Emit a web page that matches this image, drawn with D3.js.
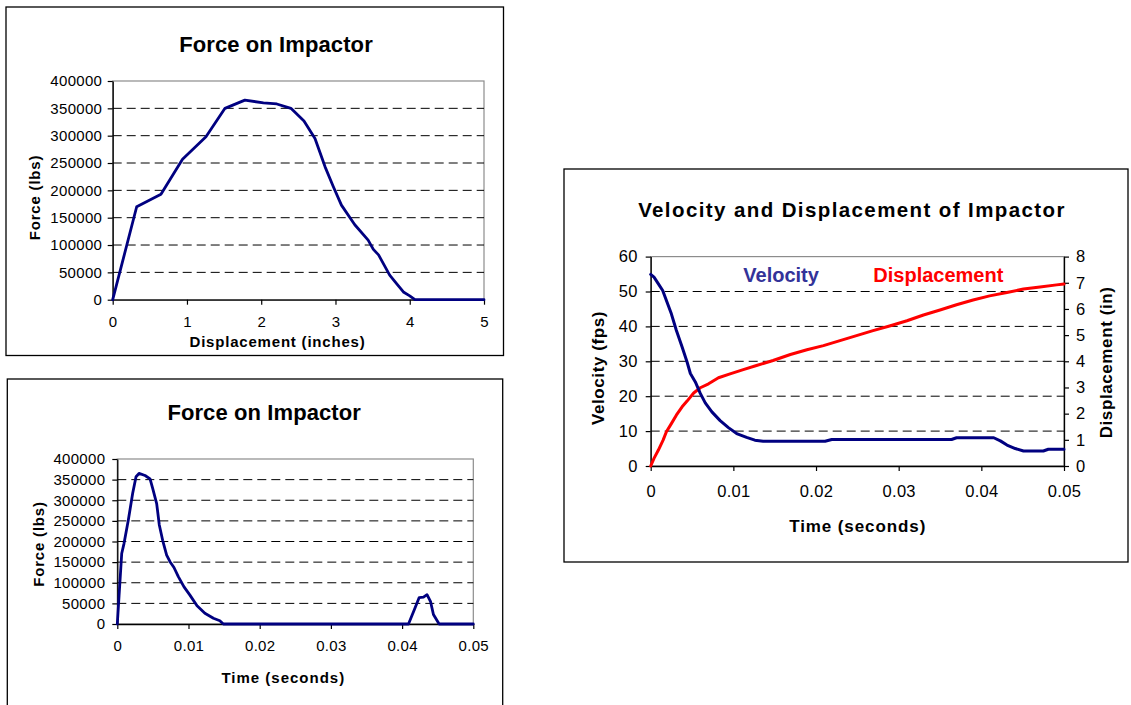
<!DOCTYPE html>
<html>
<head>
<meta charset="utf-8">
<script src="https://cdn.jsdelivr.net/npm/d3@7"></script>
<style>
body { margin: 0; background: #fff; }
svg text { font-family: "Liberation Sans", Arial, sans-serif; }
</style>
</head>
<body>
<svg width="1131" height="705"></svg>
<script>
// force vs displacement (top left chart)
var dispInches = [0, 0.323, 0.65, 0.94, 1.256, 1.512, 1.78, 2.03, 2.21, 2.40, 2.576, 2.724, 2.86, 2.97, 3.08, 3.26, 3.44, 3.51, 3.58, 3.73, 3.82, 3.92, 4.0, 4.07, 5.0];
var dispForce  = [0, 170000, 193000, 257000, 298000, 350000, 365000, 360000, 358000, 350000, 327000, 295000, 243000, 207000, 173000, 137000, 109000, 92000, 82000, 45000, 30000, 13500, 7000, 0, 0];

// force vs time (bottom left chart)
var forceTime = [0, 0.00062, 0.00094, 0.00155, 0.00216, 0.00263, 0.00305, 0.0039, 0.0046, 0.00497, 0.00553, 0.0059, 0.00637, 0.00693, 0.0074, 0.00796, 0.00857, 0.00937, 0.0102, 0.0112, 0.0123, 0.0135, 0.0144, 0.0149, 0.0409, 0.0417, 0.0424, 0.043, 0.0435, 0.044, 0.0444, 0.0452, 0.05];
var forceLbs  = [0, 171000, 195000, 252000, 317000, 357000, 365000, 360000, 352000, 329000, 292000, 240000, 203000, 167000, 151000, 137000, 115000, 90000, 70000, 44000, 26000, 14000, 8000, 0, 0, 34000, 64000, 65000, 71000, 54000, 23000, 0, 0];

// velocity and displacement vs time (right chart)
var velTime = [0, 0.0004, 0.00093, 0.00145, 0.0019, 0.0025, 0.0031, 0.0038, 0.0044, 0.0048, 0.0054, 0.006, 0.0066, 0.0074, 0.0084, 0.0094, 0.0104, 0.0116, 0.0126, 0.0136, 0.0211, 0.0219, 0.0364, 0.037, 0.0415, 0.0423, 0.0431, 0.0441, 0.0451, 0.0475, 0.0481, 0.05];
var velFps  = [54.9, 54.1, 52.2, 50.3, 47.4, 43.6, 38.9, 34.1, 29.8, 26.5, 24.1, 20.8, 18.1, 15.5, 13.0, 11.0, 9.3, 8.2, 7.4, 7.1, 7.1, 7.6, 7.6, 8.1, 8.1, 7.2, 6.0, 5.0, 4.3, 4.3, 4.8, 4.8];
var dspTime = [0, 0.0004, 0.00093, 0.0015, 0.0019, 0.0025, 0.0031, 0.0038, 0.0044, 0.0052, 0.006, 0.007, 0.0082, 0.0096, 0.0112, 0.0128, 0.0148, 0.0169, 0.0189, 0.0209, 0.0229, 0.0249, 0.0269, 0.029, 0.031, 0.033, 0.035, 0.037, 0.039, 0.041, 0.0431, 0.0451, 0.0471, 0.0491, 0.05];
var dspIn   = [0, 0.29, 0.61, 0.99, 1.31, 1.62, 1.94, 2.26, 2.48, 2.79, 2.99, 3.14, 3.37, 3.52, 3.68, 3.84, 4.03, 4.26, 4.44, 4.6, 4.79, 4.98, 5.17, 5.36, 5.55, 5.77, 5.96, 6.16, 6.34, 6.5, 6.63, 6.76, 6.84, 6.92, 6.95];

// tick values
var forceTicks = [0, 50000, 100000, 150000, 200000, 250000, 300000, 350000, 400000];
var inchTicks = [0, 1, 2, 3, 4, 5];
var timeTicks = [0, 0.01, 0.02, 0.03, 0.04, 0.05];
var velTicks = [0, 10, 20, 30, 40, 50, 60];
var dspTicks = [0, 1, 2, 3, 4, 5, 6, 7, 8];

var svg = d3.select("svg");
var NAVY = "#000080";

//draws the outer box, plot area, gridlines and title
function frame(box, x, y, ticks, title, tx, ty, tsize, tspace) {
  svg.append("rect").attr("x", box[0]).attr("y", box[1])
    .attr("width", box[2] - box[0]).attr("height", box[3] - box[1])
    .attr("fill", "#fff").attr("stroke", "#000").attr("stroke-width", 1.3);
  var x0 = x.range()[0], x1 = x.range()[1];
  var yTop = y.range()[1], yBot = y.range()[0];
  // plot area border (grey top and right)
  svg.append("rect").attr("x", x0).attr("y", yTop)
    .attr("width", x1 - x0).attr("height", yBot - yTop)
    .attr("fill", "none").attr("stroke", "#8c8c8c").attr("stroke-width", 1.2);
  // dashed gridlines, not on the bottom or top
  svg.append("g").selectAll("line")
    .data(ticks.slice(1, ticks.length - 1))
    .enter().append("line")
    .attr("x1", x0).attr("x2", x1)
    .attr("y1", function(d) { return y(d); })
    .attr("y2", function(d) { return y(d); })
    .attr("stroke", "#000").attr("stroke-width", 1)
    .attr("stroke-dasharray", "9,5");
  svg.append("text").attr("x", tx).attr("y", ty)
    .attr("text-anchor", "middle").attr("font-weight", "bold")
    .attr("font-size", tsize).attr("letter-spacing", tspace)
    .text(title);
}

function styleAxis(g, size, spacing) {
  g.attr("font-family", null);
  g.select(".domain").attr("stroke", "#000").attr("stroke-width", 1.3);
  g.selectAll(".tick line").attr("stroke", "#000").attr("stroke-width", 1.2);
  g.selectAll("text").attr("font-size", size).attr("fill", "#000")
    .attr("letter-spacing", spacing);
}

function axisTitle(txt, x, y, rot, size, spacing) {
  svg.append("text")
    .attr("transform", "translate(" + x + "," + y + ")" + (rot ? " rotate(-90)" : ""))
    .attr("text-anchor", "middle").attr("font-weight", "bold")
    .attr("font-size", size).attr("letter-spacing", spacing)
    .text(txt);
}

function drawLine(xs, ys, x, y, color, w) {
  var pts = xs.map(function(d, i) { return [d, ys[i]]; });
  svg.append("path").datum(pts)
    .attr("d", d3.line().x(function(d) { return x(d[0]); }).y(function(d) { return y(d[1]); }))
    .attr("fill", "none").attr("stroke", color).attr("stroke-width", w)
    .attr("stroke-linejoin", "round").attr("stroke-linecap", "round");
}

var fmt = function(d) { return String(d); };

// ---------- chart 1: force on impactor vs displacement ----------
var x1 = d3.scaleLinear().domain([0, 5]).range([112.7, 484]);
var y1 = d3.scaleLinear().domain([0, 400000]).range([299.7, 81]);
frame([6, 7, 503.5, 355.5], x1, y1, forceTicks, "Force on Impactor", 276, 51.5, 22, 0.1);
svg.append("g").attr("transform", "translate(0," + y1(0) + ")")
  .call(d3.axisBottom(x1).tickValues(inchTicks).tickFormat(fmt).tickSize(5).tickSizeOuter(0).tickPadding(12))
  .call(styleAxis, 15, 0.3);
svg.append("g").attr("transform", "translate(" + x1(0) + ",0)")
  .call(d3.axisLeft(y1).tickValues(forceTicks).tickFormat(fmt).tickSize(5).tickSizeOuter(0).tickPadding(5.5))
  .call(styleAxis, 15, 0.3);
axisTitle("Displacement (inches)", 277.5, 346.5, false, 15, 0.8);
axisTitle("Force (lbs)", 39.5, 197.5, true, 15, 0.8);
drawLine(dispInches, dispForce, x1, y1, NAVY, 2.8);

// ---------- chart 2: force on impactor vs time ----------
var x2 = d3.scaleLinear().domain([0, 0.05]).range([117.3, 473.3]);
var y2 = d3.scaleLinear().domain([0, 400000]).range([624, 459]);
frame([7.3, 379, 502.7, 720], x2, y2, forceTicks, "Force on Impactor", 264.2, 420, 22, 0.1);
svg.append("g").attr("transform", "translate(0," + y2(0) + ")")
  .call(d3.axisBottom(x2).tickValues(timeTicks).tickFormat(fmt).tickSize(5).tickSizeOuter(0).tickPadding(11))
  .call(styleAxis, 15, 0.3);
svg.append("g").attr("transform", "translate(" + x2(0) + ",0)")
  .call(d3.axisLeft(y2).tickValues(forceTicks).tickFormat(fmt).tickSize(5).tickSizeOuter(0).tickPadding(7))
  .call(styleAxis, 15, 0.3);
axisTitle("Time (seconds)", 283.3, 683.3, false, 15, 1);
axisTitle("Force (lbs)", 44, 544, true, 15, 0.8);
drawLine(forceTime, forceLbs, x2, y2, NAVY, 2.8);

// ---------- chart 3: velocity and displacement vs time ----------
var x3 = d3.scaleLinear().domain([0, 0.05]).range([650.7, 1064]);
var y3 = d3.scaleLinear().domain([0, 60]).range([466, 256.6]);
var y3r = d3.scaleLinear().domain([0, 8]).range([466, 256.6]);
frame([564, 169, 1128, 562], x3, y3, velTicks, "Velocity and Displacement of Impactor", 852, 216.5, 20.5, 1.4);
svg.append("g").attr("transform", "translate(0," + y3(0) + ")")
  .call(d3.axisBottom(x3).tickValues(timeTicks).tickFormat(fmt).tickSize(5).tickSizeOuter(0).tickPadding(14))
  .call(styleAxis, 16.5, 0.3);
svg.append("g").attr("transform", "translate(" + x3(0) + ",0)")
  .call(d3.axisLeft(y3).tickValues(velTicks).tickFormat(fmt).tickSize(5).tickSizeOuter(0).tickPadding(8))
  .call(styleAxis, 16.5, 0.3);
svg.append("g").attr("transform", "translate(" + x3(0.05) + ",0)")
  .call(d3.axisRight(y3r).tickValues(dspTicks).tickFormat(fmt).tickSize(5).tickSizeOuter(0).tickPadding(7))
  .call(styleAxis, 16.5, 0.3);
axisTitle("Time (seconds)", 857.7, 532, false, 17, 0.9);
axisTitle("Velocity (fps)", 604, 368, true, 17, 0.6);
axisTitle("Displacement (in)", 1111.5, 362.4, true, 17, 0.6);
drawLine(dspTime, dspIn, x3, y3r, "#ff0000", 3);
drawLine(velTime, velFps, x3, y3, NAVY, 3);

// series labels inside the plot
svg.append("text").attr("x", 743.3).attr("y", 281.7)
  .attr("font-weight", "bold").attr("font-size", 20).attr("fill", "#333399")
  .text("Velocity");
svg.append("text").attr("x", 873.3).attr("y", 281.7)
  .attr("font-weight", "bold").attr("font-size", 20).attr("fill", "#ff0000")
  .text("Displacement");
</script>
</body>
</html>
